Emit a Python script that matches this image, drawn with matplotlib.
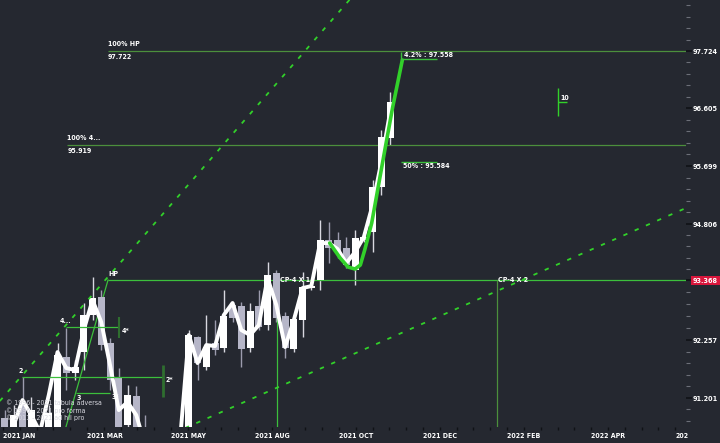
import numpy as np
import matplotlib.pyplot as plt

# candle data (one bar per index)
opens  = [90.826, 90.412, 91.070, 90.412, 90.600, 90.412, 90.600, 91.972, 91.672, 92.066,
          92.762, 93.100, 92.236, 91.578, 90.694, 91.239, 90.563, 90.412, 89.941, 90.224,
          90.035, 90.412, 92.348, 91.785, 92.236, 92.142, 92.950, 92.931, 92.142, 92.931,
          92.574, 93.551, 92.743, 92.123, 92.668, 93.269, 93.420, 94.172, 94.172, 94.021,
          93.608, 94.172, 94.322, 95.168, 96.089]
highs  = [90.976, 91.070, 91.596, 91.221, 90.694, 91.070, 92.236, 92.518, 91.916, 92.988,
          93.476, 93.232, 92.330, 91.766, 91.446, 91.427, 90.882, 90.506, 90.318, 90.318,
          90.506, 92.480, 92.360, 92.762, 92.668, 93.232, 93.006, 93.006, 92.988, 93.232,
          93.758, 93.600, 92.818, 92.762, 93.570, 93.363, 94.548, 94.510, 94.322, 94.228,
          94.360, 94.266, 95.300, 96.239, 96.954]
lows   = [90.318, 90.318, 90.412, 90.318, 90.224, 90.318, 90.412, 91.352, 91.540, 91.728,
          92.668, 92.104, 91.352, 90.412, 90.600, 90.412, 90.224, 90.035, 89.848, 89.848,
          89.941, 90.318, 91.540, 91.728, 92.010, 92.066, 92.630, 91.785, 92.066, 92.480,
          92.480, 92.630, 91.954, 92.066, 92.348, 93.232, 93.232, 93.739, 93.833, 93.645,
          93.326, 94.134, 93.946, 95.018, 95.957]
closes = [90.412, 90.882, 90.506, 90.976, 90.318, 90.920, 92.010, 91.672, 91.785, 92.762,
          93.081, 92.198, 91.540, 90.600, 91.258, 90.600, 90.318, 90.129, 90.224, 89.941,
          90.412, 92.386, 91.860, 92.160, 92.104, 92.743, 92.706, 92.123, 92.837, 92.536,
          93.514, 92.706, 92.142, 92.687, 93.288, 93.307, 94.172, 94.021, 93.946, 93.702,
          94.209, 94.228, 95.168, 96.108, 96.766]
ma     = [90.412, 90.694, 91.164, 90.882, 90.563, 91.258, 92.066, 91.766, 91.728, 92.480,
          93.044, 92.630, 91.822, 90.976, 91.127, 90.882, 90.318, 90.035, 89.941, 90.035,
          90.412, 92.386, 91.860, 92.198, 92.179, 92.762, 92.988, 92.480, 92.386, 92.574,
          93.457, 92.950, 92.160, 92.668, 93.269, 93.307, 94.115, 94.115, 94.003, 93.739,
          93.946, 94.228, 94.830, 95.638, 96.578]

# projection curve
proj_x = [37.1, 38.3, 39.2, 40.0, 40.6, 41.1, 41.9, 43.4, 44.3, 45.4]
proj_y = [94.115, 93.833, 93.664, 93.627, 93.702, 93.984, 94.491, 95.863, 96.672, 97.555]

# price axis
ytick_pos = [97.724, 96.653, 95.563, 94.473, 93.420, 92.292, 91.202]
ytick_lbl = ['97.724', '96.605', '95.699', '94.806', '93.368', '92.257', '91.201']
xtick_pos = [-0.23, 9.37, 18.97, 28.57, 38.17, 47.77, 57.37, 66.97, 76.57]
xtick_lbl = ['2021 JAN', '2021 MAR', '2021 MAY', '2021 AUG', '2021 OCT',
             '2021 DEC', '2022 FEB', '2022 APR', '202']

legend_lines = ['© 1996 - 2021 tabula adversa', '© 1996 - 2021 pro forma',
                '© 2011 - 2021 ad hil pro']

bg = '#252830'
up_col = '#ffffff'
dn_col = '#b6b6c8'
grn = '#3cbf3c'
dim_grn = '#4c8f3c'
bright = '#32d12a'

plt.rcParams['font.stretch'] = 'condensed'

fig = plt.figure(figsize=(7.2, 4.43), dpi=100, facecolor=bg)
ax = fig.add_axes([0, 0.036, 0.953, 0.964], facecolor=bg)
ax.set_xlim(-0.571, 77.83)
ax.set_ylim(90.657, 98.683)

o = np.array(opens); c = np.array(closes)
h = np.array(highs); l = np.array(lows)
idx = np.arange(len(o))
up = c >= o
ax.vlines(idx, l, h, colors=np.where(up, '#d8d8e0', '#9c9cae'), linewidth=1, zorder=2)
ax.bar(idx, np.abs(c - o), bottom=np.minimum(o, c), width=0.8,
       color=np.where(up, up_col, dn_col), linewidth=0, zorder=3)

# moving average and projection
ax.plot(idx, ma, color='white', linewidth=2.8, solid_joinstyle='round', zorder=4)
ax.plot(proj_x, proj_y, color=bright, linewidth=2.6, solid_joinstyle='round',
        solid_capstyle='round', zorder=5)

# channel lines (dotted)
ax.plot([-0.6, 45.0], [91.145, 99.75], color=bright, linewidth=1.3,
        linestyle=(0, (2.4, 4.4)), zorder=4)
ax.plot([20.57, 78.06], [90.638, 94.792], color=bright, linewidth=1.3,
        linestyle=(0, (2.4, 4.4)), zorder=4)

# levels
ax.hlines(97.724, 11.77, 80, color=dim_grn, linewidth=0.9, zorder=2)
ax.hlines(95.959, 7.1, 80, color=dim_grn, linewidth=0.9, zorder=2)
ax.hlines(93.420, 11.77, 80, color=grn, linewidth=0.9, zorder=2)
ax.vlines(31.1, 90.0, 93.420, color=grn, linewidth=0.9, zorder=2)
ax.vlines(56.2, 90.0, 93.420, color=dim_grn, linewidth=0.9, zorder=2)
ax.plot([6.86, 11.77], [90.6, 93.42], color=grn, linewidth=0.9, zorder=2)

ax.hlines(91.596, 1.94, 18.06, color=grn, linewidth=0.9, zorder=5)
ax.vlines(18.06, 91.22, 91.82, color='#2f6e2f', linewidth=2, zorder=5)
ax.hlines(92.536, 6.97, 13.03, color=grn, linewidth=0.9, zorder=5)
ax.vlines(13.03, 92.33, 92.72, color='#2f6e2f', linewidth=1.5, zorder=5)
ax.hlines(91.296, 8.11, 12.0, color=grn, linewidth=0.9, zorder=5)

txt = dict(color='white', fontsize=5.0, fontweight='bold', zorder=6)
ax.text(11.77, 97.80, '100% HP', va='bottom', ha='left', **txt)
ax.text(11.77, 97.66, '97.722', va='top', ha='left', **txt)
ax.text(7.1, 96.03, '100% 4...', va='bottom', ha='left', **txt)
ax.text(7.1, 95.90, '95.919', va='top', ha='left', **txt)
ax.text(11.77, 93.48, 'HP', va='bottom', ha='left', **txt)
ax.text(31.4, 93.42, 'CP-4 X 1', va='center', ha='left', **txt)
ax.text(56.3, 93.42, 'CP-4 X 2', va='center', ha='left', **txt)
ax.text(1.5, 91.66, '2', va='bottom', ha='left', **txt)
ax.text(18.3, 91.55, '2*', va='center', ha='left', **txt)
ax.text(6.3, 92.60, '4...', va='bottom', ha='left', **txt)
ax.text(13.3, 92.47, '4*', va='center', ha='left', **txt)
ax.text(8.2, 91.25, '3', va='top', ha='left', **txt)
ax.text(12.2, 91.22, '3*', va='center', ha='left', **txt)

ax.vlines(45.3, 97.555, 97.706, color=grn, linewidth=1, zorder=5)
ax.hlines(97.574, 45.3, 49.4, color=grn, linewidth=1, zorder=5)
ax.text(45.6, 97.65, '4.2% : 97.558', va='center', ha='left', **txt)
ax.hlines(95.638, 45.3, 49.4, color=grn, linewidth=1, zorder=5)
ax.text(45.5, 95.56, '50% : 95.584', va='center', ha='left', **txt)

ax.vlines(63.2, 96.50, 97.03, color=bright, linewidth=1, zorder=5)
ax.hlines(96.77, 63.2, 64.2, color=bright, linewidth=1, zorder=5)
ax.text(63.4, 96.84, '10', va='center', ha='left', **txt)

for k, s in enumerate(legend_lines):
    ax.text(0.1, 91.10 - k * 0.135, s, va='center', ha='left', color='#d8d8e0',
            fontsize=5.0, zorder=6)

# axes styling
for sp in ax.spines.values():
    sp.set_visible(False)
ax.yaxis.tick_right()
ax.set_yticks(ytick_pos)
ax.set_yticklabels(ytick_lbl)
ymin_ticks = []
for a, b in zip(ytick_pos[:-1], ytick_pos[1:]):
    ymin_ticks += list(np.linspace(a, b, 6)[1:-1])
step = (ytick_pos[0] - ytick_pos[1]) / 5
ymin_ticks += [ytick_pos[0] + step * k for k in range(1, 5)]
ymin_ticks += [ytick_pos[-1] - step * k for k in range(1, 3)]
ax.set_yticks(ymin_ticks, minor=True)
ax.tick_params(axis='y', which='major', length=4, width=1.2, color='#101216',
               labelcolor='white', labelsize=5.2, pad=1)
ax.tick_params(axis='y', which='minor', length=3, width=0.8, color='#6c6f78')
for t in ax.get_yticklabels():
    t.set_fontweight('bold')
ax.get_yticklabels()[4].set_bbox(dict(facecolor='#d9163c', edgecolor='none', pad=1.2))

ax.set_xticks(xtick_pos)
ax.set_xticklabels(xtick_lbl)
ax.set_xticks(np.arange(-0.23, 77.8, 1.92), minor=True)
ax.tick_params(axis='x', which='both', length=2.5, width=1, color='#101216',
               labelcolor='white', labelsize=5.0, pad=2)
for t in ax.get_xticklabels():
    t.set_fontweight('bold')
    t.set_horizontalalignment('left')

fig.savefig('out.png', dpi=100, facecolor=bg)
